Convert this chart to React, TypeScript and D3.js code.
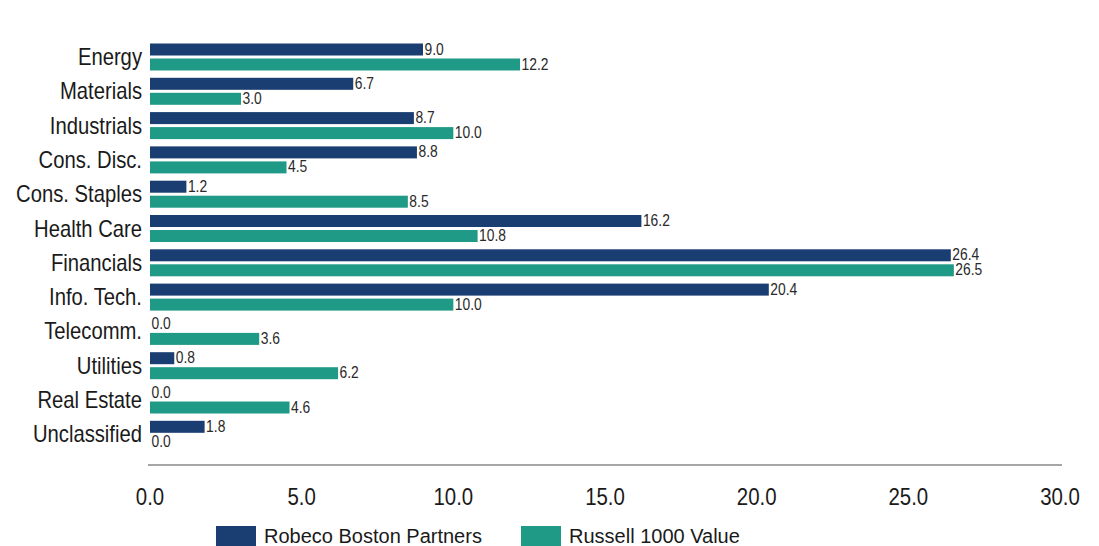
import React from "react";
import * as d3 from "d3";

const categories = ["Energy", "Materials", "Industrials", "Cons. Disc.", "Cons. Staples", "Health Care", "Financials", "Info. Tech.", "Telecomm.", "Utilities", "Real Estate", "Unclassified"];
const robeco = [9.0, 6.7, 8.7, 8.8, 1.2, 16.2, 26.4, 20.4, 0.0, 0.8, 0.0, 1.8];
const russell = [12.2, 3.0, 10.0, 4.5, 8.5, 10.8, 26.5, 10.0, 3.6, 6.2, 4.6, 0.0];
const xTicks = [0, 5, 10, 15, 20, 25, 30];
const seriesNames = ["Robeco Boston Partners", "Russell 1000 Value"];
const colors = ["#1a3d72", "#1f9a87"];

const W = 1099, H = 546;
const FONT = "'Liberation Sans', Arial, sans-serif";

function NText({ x, y, sx, anchor, size, children, fill = "#1a1a1a" }: any) {
  return (
    <text transform={`translate(${x},${y}) scale(${sx},1)`} textAnchor={anchor} fontSize={size} fill={fill}>{children}</text>
  );
}

export default function App() {
  const x = d3.scaleLinear().domain([0, 30]).range([150, 1060]);
  const step = 34.3;
  const bw = 27;
  const y = d3.scaleBand().domain(categories).range([43.5, 43.5 + 11 * step + bw]).paddingInner((step - bw) / step).paddingOuter(0);
  const inner = d3.scaleBand().domain(["a", "b"]).range([0, y.bandwidth()]).paddingInner(0.2);
  const series = [robeco, russell];
  return (
    <svg width={W} height={H} style={{ position: "absolute", left: 0, top: 0, background: "#fff" }} fontFamily={FONT}>
      {categories.map((c) => (
        <NText key={c} x={142} y={(y(c) as number) + y.bandwidth() / 2 + 8} sx={0.88} anchor="end" size={23}>{c}</NText>
      ))}
      {series.map((vals, s) => (
        <g key={s}>
          {vals.map((v, i) => {
            const by = (y(categories[i]) as number) + (inner(s === 0 ? "a" : "b") as number);
            const bh = inner.bandwidth();
            return (
              <g key={i}>
                {v > 0 && <rect x={x(0)} y={by} width={x(v) - x(0)} height={bh} fill={colors[s]} />}
                <NText x={x(v) + 1.5} y={by + bh - 1} sx={0.84} anchor="start" size={16.5} fill="#2a2a2a">{v.toFixed(1)}</NText>
              </g>
            );
          })}
        </g>
      ))}
      <line x1={148} x2={1062} y1={465} y2={465} stroke="#a6a6a6" strokeWidth={2} />
      {xTicks.map(t => (
        <NText key={t} x={x(t)} y={505} sx={0.85} anchor="middle" size={24}>{t.toFixed(1)}</NText>
      ))}
      {seriesNames.map((n, s) => {
        const lx = s === 0 ? 216 : 521;
        return (
          <g key={n}>
            <rect x={lx} y={526} width={40} height={20} fill={colors[s]} />
            <text x={lx + 48} y={543} fontSize={20} fill="#1a1a1a">{n}</text>
          </g>
        );
      })}
    </svg>
  );
}
